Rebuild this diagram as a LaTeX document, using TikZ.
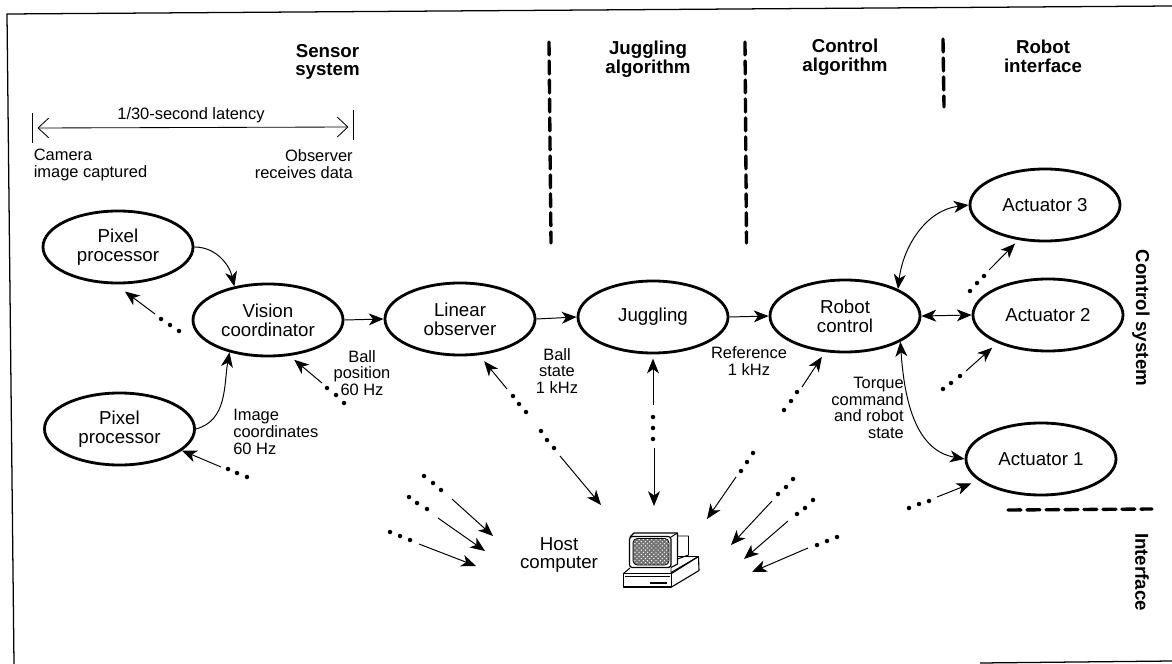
\documentclass[tikz,border=0pt]{standalone}
\usepackage{fontspec}
\setmainfont{Liberation Sans}
\usetikzlibrary{arrows.meta,shapes.geometric,patterns}
\tikzset{
    proc/.style={draw, ellipse, line width=2pt, minimum width=3.75cm, minimum height=1.8cm, inner sep=0pt, align=center, font=\fontsize{13.3}{13.3}\selectfont},
    note/.style={inner sep=0pt, font=\fontsize{11.7}{11.9}\selectfont},
    head/.style={inner sep=0pt, align=center, font=\fontsize{13.3}{13.3}\selectfont\bfseries},
    flow/.style={-{Stealth[length=10.5pt,width=8.5pt,inset=3pt]}, line width=.7pt},
    bothflow/.style={{Stealth[length=10.5pt,width=8.5pt,inset=3pt]}-{Stealth[length=10.5pt,width=8.5pt,inset=3pt]}, line width=.7pt},
    divider/.style={line width=2.4pt, dash pattern=on 9.2pt off 4.3pt, line cap=round},
}
\begin{document}
\begin{tikzpicture}[x=.025cm,y=-.025cm]
    \useasboundingbox (0,0) rectangle (1172,664);

    \coordinate (FrameTL) at (7,14);
    \coordinate (FrameTR) at (1172,6);
    \coordinate (FrameBL) at (14,664);
    \coordinate (FrameBM) at (980,663);
    \coordinate (FrameBR) at (1172,661);
    \draw[line width=.9pt] (FrameBL) -- (FrameTL) -- (FrameTR);
    \draw[line width=.9pt] (FrameBM) -- (FrameBR);

    \node [head] (SensorHead) at (327.5,62) {Sensor\\system};
    \node [head] (JugHead) at (648,59.5) {Juggling\\algorithm};
    \node [head] (CtrlHead) at (845,57) {Control\\algorithm};
    \node [head] (RobotHead) at (1043,56) {Robot\\interface};
    \node [head, rotate=-90] (CtrlSys) at (1141,318) {Control system};
    \node [head, rotate=-90] (IfaceSys) at (1142,572) {Interface};

    \coordinate (DivAtop) at (549,42);
    \coordinate (DivAbot) at (551,243);
    \coordinate (DivBtop) at (745,42);
    \coordinate (DivBbot) at (746.5,243);
    \coordinate (DivCtop) at (943,39);
    \coordinate (DivCbot) at (944,107);
    \coordinate (DivDleft) at (1008,510);
    \coordinate (DivDright) at (1152,509);
    \draw[divider] (DivAtop) -- (DivAbot);
    \draw[divider] (DivBtop) -- (DivBbot);
    \draw[divider] (DivCtop) -- (DivCbot);
    \draw[divider] (DivDleft) -- (DivDright);

    \coordinate (LatLa) at (32.7,113);
    \coordinate (LatLb) at (32.7,143);
    \coordinate (LatRa) at (353,110);
    \coordinate (LatRb) at (353,140);
    \coordinate (LatL) at (37.5,128);
    \coordinate (LatR) at (348.5,127);
    \draw[line width=.6pt] (LatLa) -- (LatLb);
    \draw[line width=.6pt] (LatRa) -- (LatRb);
    \draw[{Straight Barb[length=7.5pt,width=14pt]}-{Straight Barb[length=7.5pt,width=14pt]}, line width=.6pt] (LatL) -- (LatR);
    \node [note] (LatLabel) at (191,115) {1/30-second latency};
    \node [note, anchor=west, align=left] (CamLabel) at (33.5,165) {Camera\\image captured};
    \node [note, anchor=east, align=right] (ObsLabel) at (353,164) {Observer\\receives data};

    \node [proc] (PixA) at (118,247) {Pixel\\processor};
    \node [proc] (PixB) at (119.5,429) {Pixel\\processor};
    \node [proc] (Vision) at (268,320) {Vision\\coordinator};
    \node [proc] (Linear) at (460,319) {Linear\\observer};
    \node [proc] (Jug) at (653,317) {Juggling};
    \node [proc] (Robot) at (845,316) {Robot\\control};
    \node [proc] (ActC) at (1045,205) {Actuator 3};
    \node [proc] (ActB) at (1048,315) {Actuator 2};
    \node [proc] (ActA) at (1041,459) {Actuator 1};

    \draw[flow] (PixA.east) to[out=0,in=103] (Vision.135);
    \draw[flow] (PixB.east) to[out=15,in=-100] (Vision.-140);
    \draw[flow] (Vision.east) -- (Linear.west);
    \draw[flow] (Linear.east) -- (Jug.west);
    \draw[flow] (Jug.east) -- (Robot.west);
    \draw[bothflow] (Robot.27) to[out=83,in=187] (ActC.west);
    \draw[bothflow] (Robot.east) -- (ActB.west);
    \draw[bothflow] (Robot.-25) to[out=-86,in=170] (ActA.west);

    \node [note, align=center] (BallPos) at (362,373) {Ball\\position\\60 Hz};
    \node [note, anchor=west, align=left] (ImgCoord) at (233,432) {Image\\coordinates\\60 Hz};
    \node [note, align=center] (BallState) at (557,371) {Ball\\state\\1 kHz};
    \node [note, align=center] (RefRate) at (749,361) {Reference\\1 kHz};
    \node [note, anchor=east, align=right] (TorqueLabel) at (904,408) {Torque\\command\\and robot\\state};
    \node [inner sep=0pt, align=center, font=\fontsize{13.3}{13.3}\selectfont] (HostLabel) at (559,555) {Host\\computer};

    \coordinate (TailPixA) at (155,314);
    \coordinate (TailVision) at (322,383);
    \coordinate (TailPixB) at (221,467);
    \coordinate (TailLinear) at (507,389);
    \coordinate (TailJug) at (653,405);
    \coordinate (TailRobot) at (802,387);
    \coordinate (TailActC) at (989,270);
    \coordinate (TailActB) at (966,371);
    \coordinate (TailActA) at (937,497);
    \draw[flow, shorten >=8.5pt] (TailPixA) -- (PixA.-94);
    \draw[flow, shorten >=4.3pt] (TailVision) -- (Vision.-59);
    \draw[flow] (TailPixB) -- (PixB.-19);
    \draw[flow, shorten >=5.5pt] (TailLinear) -- (Linear.-62);
    \draw[flow, shorten >=3pt] (TailJug) -- (Jug.south);
    \draw[flow, shorten >=4pt] (TailRobot) -- (Robot.-119);
    \draw[flow, shorten >=3.5pt] (TailActC) -- (ActC.-127);
    \draw[flow, shorten >=5pt] (TailActB) -- (ActB.-151);
    \draw[flow, shorten >=5.5pt] (TailActA) -- (ActA.-161);

    \fill (161,319) circle (1.6pt) (170,325) circle (1.6pt) (179,331) circle (1.6pt);
    \fill (327,388) circle (1.6pt) (336,395) circle (1.6pt) (344,403) circle (1.6pt);
    \fill (228,469) circle (1.6pt) (237,473) circle (1.6pt) (247,477) circle (1.6pt);
    \fill (513,396) circle (1.6pt) (519,404) circle (1.6pt) (526,412) circle (1.6pt);
    \fill (653,417) circle (1.6pt) (653,428) circle (1.6pt) (653,439) circle (1.6pt);
    \fill (797,392) circle (1.6pt) (791,401) circle (1.6pt) (784,410) circle (1.6pt);
    \fill (984,276) circle (1.6pt) (977,283) circle (1.6pt) (970,291) circle (1.6pt);
    \fill (960,376) circle (1.6pt) (951,383) circle (1.6pt) (943,389) circle (1.6pt);
    \fill (929,501) circle (1.6pt) (919,504) circle (1.6pt) (909,508) circle (1.6pt);

    \coordinate (HostTailA) at (560,456);
    \coordinate (HostTipA) at (601,505);
    \coordinate (HostTailB) at (654,448);
    \coordinate (HostTipB) at (654,506);
    \coordinate (HostTailC) at (452,499);
    \coordinate (HostTipC) at (493,536);
    \coordinate (HostTailD) at (438,518);
    \coordinate (HostTipD) at (485,551);
    \coordinate (HostTailE) at (419,544);
    \coordinate (HostTipE) at (476,566);
    \coordinate (HostTailF) at (736,477);
    \coordinate (HostTipF) at (707,519);
    \coordinate (HostTailG) at (772,501);
    \coordinate (HostTipG) at (731,545);
    \coordinate (HostTailH) at (788,521);
    \coordinate (HostTipH) at (744,559);
    \coordinate (HostTailI) at (808,548);
    \coordinate (HostTipI) at (752,572);
    \draw[flow] (HostTailA) -- (HostTipA);
    \draw[flow] (HostTailB) -- (HostTipB);
    \draw[flow] (HostTailC) -- (HostTipC);
    \draw[flow] (HostTailD) -- (HostTipD);
    \draw[flow] (HostTailE) -- (HostTipE);
    \draw[flow] (HostTailF) -- (HostTipF);
    \draw[flow] (HostTailG) -- (HostTipG);
    \draw[flow] (HostTailH) -- (HostTipH);
    \draw[flow] (HostTailI) -- (HostTipI);

    \fill (541,431) circle (1.6pt) (547,440) circle (1.6pt) (554,448) circle (1.6pt);
    \fill (424,476) circle (1.6pt) (433,483) circle (1.6pt) (441,490) circle (1.6pt);
    \fill (409,497) circle (1.6pt) (417,503) circle (1.6pt) (427,509) circle (1.6pt);
    \fill (390,532) circle (1.6pt) (400,536) circle (1.6pt) (410,540) circle (1.6pt);
    \fill (753,453) circle (1.6pt) (747,462) circle (1.6pt) (741,471) circle (1.6pt);
    \fill (793,479) circle (1.6pt) (786,487) circle (1.6pt) (778,494) circle (1.6pt);
    \fill (813,500) circle (1.6pt) (805,508) circle (1.6pt) (797,514) circle (1.6pt);
    \fill (837,537) circle (1.6pt) (827,541) circle (1.6pt) (817,545) circle (1.6pt);

    \draw[line width=.7pt, line join=round] (677.5,536) -- (688.5,536) -- (688.5,555) -- (677.5,559);
    \draw[line width=.8pt, line join=round] (630,537) -- (634,533) -- (677.5,533) -- (677.5,564) -- (671,567.5);
    \draw[line width=.7pt] (671,537) -- (677.5,533);
    \draw[line width=.9pt, rounded corners=2pt] (629.5,536.5) rectangle (671,567.5);
    \fill[black!55, draw=black, line width=.5pt, rounded corners=3pt] (633,538.5) rectangle (669,565);
    \fill[pattern=crosshatch dots, pattern color=white, rounded corners=3pt] (633.5,539) rectangle (668.5,564.5);
    \draw[line width=.7pt, line join=round] (623.5,573.5) -- (630,568);
    \draw[line width=.7pt, line join=round] (671,567.5) -- (671,572.5) -- (698.5,556.5) -- (678,556.5);
    \draw[line width=.8pt, line join=round] (623.5,573.5) -- (671.5,573.5) -- (671.5,587) -- (623.5,587) -- cycle;
    \draw[line width=.8pt, line join=round] (671.5,573.5) -- (698.5,556.5) -- (699,570.5) -- (671.5,587);
    \draw[line width=.4pt] (625,576) -- (670,576);
    \draw[line width=1.3pt] (650,583) -- (667,583);
\end{tikzpicture}
\end{document}
